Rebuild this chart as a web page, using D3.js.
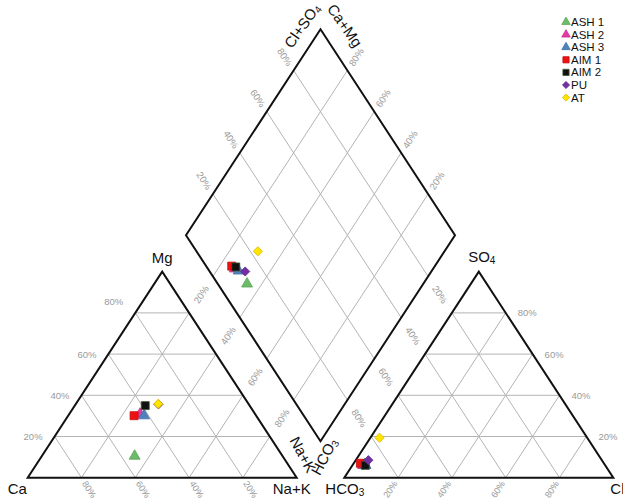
<!DOCTYPE html>
<html><head><meta charset="utf-8">
<script src="https://cdn.jsdelivr.net/npm/d3@7"></script>
<style>body{margin:0;background:#fff}svg{display:block;font-family:"Liberation Sans",Arial,sans-serif}</style>
</head><body>
<svg id="chart" width="623" height="500"></svg>
<script>
// Sample names and major-ion percentages (meq/L basis)
const samples = ["ASH 1", "ASH 2", "ASH 3", "AIM 1", "AIM 2", "PU", "AT"];
const caPct   = [55.0, 42.8, 41.7, 45.4, 38.8, 33.6, 33.6];
const mgPct   = [10.5, 30.9, 30.1, 30.1, 35.0, 35.6, 35.8];
const naKPct  = [34.5, 26.3, 28.2, 24.5, 26.2, 30.8, 30.6];
const hco3Pct = [89.1, 90.0, 89.1, 90.5, 89.2, 86.8, 77.2];
const so4Pct  = [6.5, 6.0, 6.0, 7.0, 6.0, 8.5, 19.4];
const clPct   = [4.4, 4.0, 4.9, 2.5, 4.8, 4.7, 3.4];
const tickValues = [0.2, 0.4, 0.6, 0.8];
const tickLabels = ["20%", "40%", "60%", "80%"];

const markerStyle = {
  "ASH 1": {shape: "triangle", fill: "#6dbb6a", stroke: "#5aa858"},
  "ASH 2": {shape: "triangle", fill: "#e23ba6", stroke: "#c92f92"},
  "ASH 3": {shape: "triangle", fill: "#4f81bd", stroke: "#4372aa"},
  "AIM 1": {shape: "square",   fill: "#f01010", stroke: "#c01010"},
  "AIM 2": {shape: "square",   fill: "#111111", stroke: "#3d5530"},
  "PU":    {shape: "diamond",  fill: "#7030a0", stroke: "#6a2a98"},
  "AT":    {shape: "diamond",  fill: "#ffe600", stroke: "#e2b800"}
};

const svg = d3.select("#chart");
const gap = 0.177;                      // gap between the two triangles (in side lengths)
// x in side-length units, y in triangle-height units
const x = d3.scaleLinear().domain([0, 2 + gap]).range([27.7, 613.3]);
const y = d3.scaleLinear().domain([0, 1]).range([477.7, 271.7]);

const cat = (ca, mg, na) => [na + 0.5 * mg, mg];
const ani = (hc, so, cl) => [1 + gap + cl + 0.5 * so, so];
const dia = (a, b) => [1 + gap / 2 - 0.5 * a + 0.5 * b, gap + a + b];
const P = p => [x(p[0]), y(p[1])];
const line = d3.line().x(d => d[0]).y(d => d[1]);

// Grid lines
const grid = [];
tickValues.forEach(p => {
  grid.push([cat(1 - p, p, 0), cat(0, p, 1 - p)]);
  grid.push([cat(p, 0, 1 - p), cat(p, 1 - p, 0)]);
  grid.push([cat(1 - p, 0, p), cat(0, 1 - p, p)]);
  grid.push([ani(1 - p, p, 0), ani(0, p, 1 - p)]);
  grid.push([ani(p, 0, 1 - p), ani(p, 1 - p, 0)]);
  grid.push([ani(1 - p, 0, p), ani(0, 1 - p, p)]);
  grid.push([dia(p, 0), dia(p, 1)]);
  grid.push([dia(0, p), dia(1, p)]);
});
svg.append("g").selectAll("path").data(grid).join("path")
  .attr("d", d => line(d.map(P)))
  .attr("stroke", "#b4b4b4").attr("stroke-width", 1).attr("fill", "none");

// Outlines
const outlines = [
  [cat(1, 0, 0), cat(0, 0, 1), cat(0, 1, 0)],
  [ani(1, 0, 0), ani(0, 0, 1), ani(0, 1, 0)],
  [dia(0, 0), dia(1, 0), dia(1, 1), dia(0, 1)]
];
svg.append("g").selectAll("path").data(outlines).join("path")
  .attr("d", d => line(d.map(P)) + "Z")
  .attr("stroke", "#111").attr("stroke-width", 2).attr("fill", "none")
  .attr("stroke-linejoin", "miter");

// Percentage labels placed on the extension of each grid line
function dirOf(a, b) {
  const pa = P(a), pb = P(b);
  const dx = pb[0] - pa[0], dy = pb[1] - pa[1], L = Math.hypot(dx, dy);
  return [dx / L, dy / L];
}
const dLeftUp = dirOf(cat(1, 0, 0), cat(0, 1, 0));     // Ca -> Mg
const dRightDown = dirOf(cat(0, 1, 0), cat(0, 0, 1));  // Mg -> Na+K
const labels = [];
tickValues.forEach((p, i) => {
  const t = tickLabels[i];
  labels.push({pt: cat(p, 0, 1 - p), dir: dRightDown, off: 14, t, fs: 9});           // Ca
  labels.push({pt: cat(0, 1 - p, p), dir: dLeftUp, off: 22, t});                     // Na+K
  labels.push({pt: ani(1 - p, 0, p), dir: [-dLeftUp[0], -dLeftUp[1]], off: 14, t, fs: 9}); // Cl
  labels.push({pt: ani(p, 1 - p, 0), dir: [-dRightDown[0], -dRightDown[1]], off: 22, t}); // HCO3
  labels.push({pt: dia(1, p), dir: [-dRightDown[0], -dRightDown[1]], off: 16, t});   // Cl+SO4
  labels.push({pt: dia(p, 1), dir: dLeftUp, off: 16, t});                            // Ca+Mg
});
const pctG = svg.append("g").attr("font-size", 9.5).attr("fill", "#9a9a9a");
pctG.selectAll("text.r").data(labels).join("text")
  .attr("class", "r")
  .attr("font-size", d => d.fs || null)
  .attr("text-anchor", "middle").attr("dominant-baseline", "central")
  .attr("transform", d => {
    const p = P(d.pt);
    let ang = Math.atan2(d.dir[1], d.dir[0]) * 180 / Math.PI;
    if (ang > 90) ang -= 180;
    if (ang < -90) ang += 180;
    return `translate(${p[0] + d.dir[0] * d.off},${p[1] + d.dir[1] * d.off}) rotate(${ang})`;
  })
  .text(d => d.t);
// Horizontal labels for Mg and SO4
tickValues.forEach((p, i) => {
  const a = P(cat(1 - p, p, 0));
  pctG.append("text").attr("x", a[0] - 12).attr("y", a[1] - (p === 0.8 ? 11 : 0))
    .attr("text-anchor", "end").attr("dominant-baseline", "central").text(tickLabels[i]);
  const b = P(ani(0, p, 1 - p));
  pctG.append("text").attr("x", b[0] + 12).attr("y", b[1]).attr("text-anchor", "start")
    .attr("dominant-baseline", "central").text(tickLabels[i]);
});

// Axis titles
const tg = svg.append("g").attr("font-size", 15).attr("fill", "#111");
function title(txt, sub, xx, yy, anchor, rot) {
  const t = tg.append("text").attr("text-anchor", anchor).attr("dominant-baseline", "central")
    .attr("transform", `translate(${xx},${yy}) rotate(${rot || 0})`);
  t.append("tspan").text(txt);
  if (sub) t.append("tspan").attr("font-size", 10).attr("dy", 4).text(sub);
  return t;
}
const mgTop = P(cat(0, 1, 0)), so4Top = P(ani(0, 1, 0));
const caV = P(cat(1, 0, 0)), naV = P(cat(0, 0, 1)), hcV = P(ani(1, 0, 0)), clV = P(ani(0, 0, 1));
const dTop = P(dia(1, 1)), dBot = P(dia(0, 0));
title("Mg", null, mgTop[0], mgTop[1] - 15, "middle");
title("SO", "4", so4Top[0] + 3, so4Top[1] - 16, "middle");
title("Ca", null, caV[0] - 20, caV[1] + 10, "start");
title("Na+K", null, naV[0] - 5, naV[1] + 10, "middle");
title("HCO", "3", hcV[0] - 19, hcV[1] + 10, "start");
title("Cl", null, clV[0] - 3, clV[1] + 10, "start");
title("Cl+SO", "4", dTop[0] - 19, dTop[1] - 4, "middle", -55);
title("Ca+Mg", null, dTop[0] + 25, dTop[1] - 4, "middle", 55);
title("Na+K", null, dBot[0] - 17, dBot[1] + 13, "middle", 62);
title("HCO", "3", dBot[0] + 3, dBot[1] + 15, "middle", -62);

// Markers
const baseSize = {triangle: 52, square: 64, diamond: 42};
const symType = {triangle: d3.symbolTriangle, square: d3.symbolSquare, diamond: d3.symbolSquare};
function marker(g, name, px, py, scale) {
  const st = markerStyle[name];
  g.append("path").attr("d", d3.symbol(symType[st.shape], baseSize[st.shape] * (scale || 1))())
    .attr("transform", `translate(${px},${py})` + (st.shape === "diamond" ? " rotate(45)" : ""))
    .attr("fill", st.fill).attr("stroke", st.stroke).attr("stroke-width", 0.8);
}
const mk = svg.append("g");
samples.forEach((name, i) => {
  const c = P(cat(caPct[i] / 100, mgPct[i] / 100, naKPct[i] / 100));
  const a = P(ani(hco3Pct[i] / 100, so4Pct[i] / 100, clPct[i] / 100));
  const d = P(dia((caPct[i] + mgPct[i]) / 100, (so4Pct[i] + clPct[i]) / 100));
  marker(mk, name, c[0], c[1]);
  marker(mk, name, a[0], a[1]);
  marker(mk, name, d[0], d[1]);
});

// Legend
const lg = svg.append("g").attr("font-size", 11.5).attr("fill", "#111");
samples.forEach((name, i) => {
  const yy = 22 + i * 12.6;
  marker(lg, name, 566, yy, 0.6);
  lg.append("text").attr("x", 571).attr("y", yy).attr("dominant-baseline", "central").text(name);
});
</script>
</body></html>
